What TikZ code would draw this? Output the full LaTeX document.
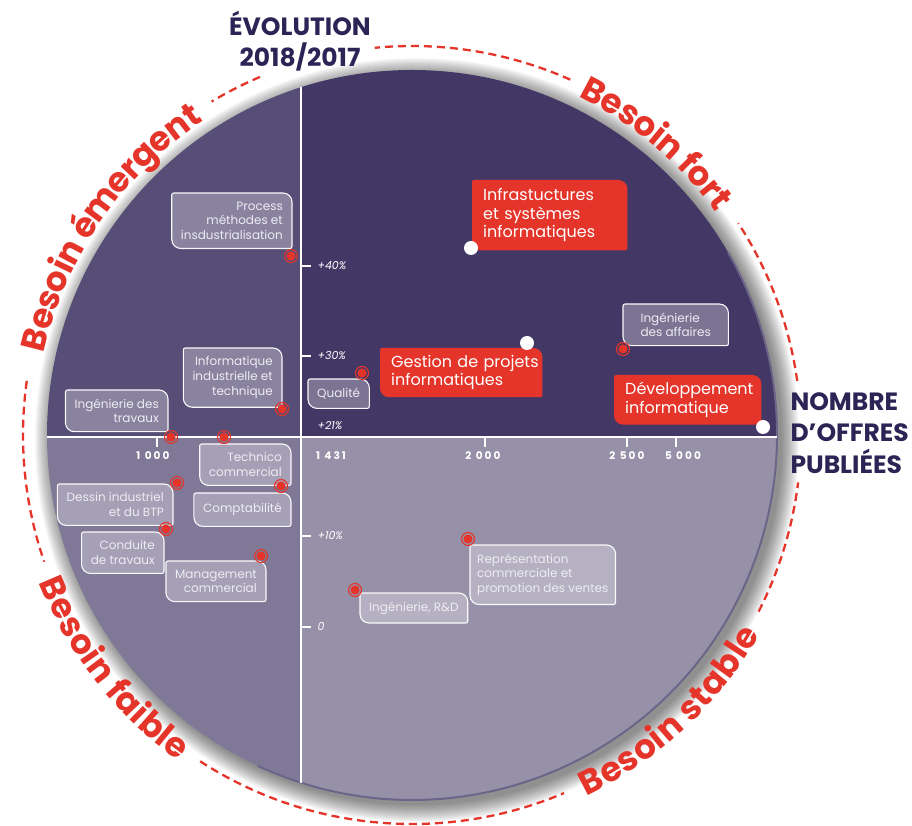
\documentclass[tikz,border=0pt]{standalone}
\usepackage{fontspec}
\setmainfont{Poppins}
\newfontfamily\tickfont[LetterSpace=20]{Poppins}
\usetikzlibrary{decorations.text}

\definecolor{besred}{HTML}{E5352A}
\definecolor{navy}{HTML}{2B2455}
\definecolor{qtl}{HTML}{564E76}
\definecolor{qtr}{HTML}{433865}
\definecolor{qbl}{HTML}{7F7897}
\definecolor{qbr}{HTML}{9690A8}
\definecolor{qedge}{HTML}{6B6589}
\definecolor{tagtext}{HTML}{EEECF3}

\pgfdeclarelayer{disc}
\pgfdeclarelayer{tags}
\pgfsetlayers{disc,tags,main}

\newcommand\besoinfont{\bfseries\fontsize{34}{34}\selectfont\color{besred}}
% outline of a tag: big round corners top right and bottom left
\newcommand\tagpath[2]{%
  \path[#1] ([xshift=2pt]#2.north west) -- ([xshift=-9pt]#2.north east)
    arc[start angle=90,end angle=0,radius=9pt] -- ([yshift=2pt]#2.south east)
    arc[start angle=0,end angle=-90,radius=2pt] -- ([xshift=9pt]#2.south west)
    arc[start angle=270,end angle=180,radius=9pt] -- ([yshift=-2pt]#2.north west)
    arc[start angle=180,end angle=90,radius=2pt] -- cycle;}

\begin{document}
\begin{tikzpicture}[x=1pt,y=1pt,semithick,
  graytag/.style={inner xsep=9pt,inner ysep=8.5pt,text=tagtext,font=\fontsize{12}{14.8}\selectfont},
  redtag/.style={inner xsep=11pt,inner ysep=7pt,text=white,align=left,font=\fontsize{16}{18.5}\selectfont},
  tagbox/.style={fill=white,fill opacity=0.3,draw=white,draw opacity=0.95,line width=1.1pt},
  redbox/.style={fill=besred},
  reddot/.style={circle,draw=besred,line width=1.1pt,minimum size=13pt,inner sep=0pt,
    path picture={\fill[besred] (path picture bounding box.center) circle (4.6);}},
  whitedot/.style={circle,fill=white,minimum size=14pt,inner sep=0pt},
  dashring/.style={besred,line width=2.3pt,dash pattern=on 8pt off 5pt},
  arctext/.style={decorate,decoration={text along path,text align=center,raise=-12pt,
    text={|\besoinfont|#1}}},
  axis/.style={white,line width=1.2pt},
  axnum/.style={text=white,font=\tickfont\bfseries\fontsize{10.5}{12}\selectfont},
  axpct/.style={text=white,anchor=west,font=\itshape\fontsize{11}{12}\selectfont},
  heading/.style={text=navy,font=\bfseries\fontsize{25}{31.5}\selectfont}]
  \useasboundingbox (0,0) rectangle (912,825);
  \coordinate (c) at (412,390);
  \coordinate (xw) at (47,388);
  \coordinate (xe) at (777,388);
  \coordinate (yn) at (301,738);
  \coordinate (ys) at (301,42);

  % disc, shadow and quadrants
  \begin{pgfonlayer}{disc}
    \foreach \r in {365,...,382}
      \fill[black,opacity=0.03] ([shift={(5,-5)}]c) circle (\r);
    \begin{scope}
      \clip (c) circle (365);
      \fill[qtl] (40,388) rectangle (301,760);
      \fill[qtr] (301,388) rectangle (780,760);
      \fill[qbl] (40,20) rectangle (301,388);
      \fill[qbr] (301,20) rectangle (780,388);
    \end{scope}
    \draw[qedge,line width=2pt] ([shift={(30:365)}]c) arc[start angle=30,end angle=-115,radius=365];
    \draw[axis] (xw) -- (xe);
    \draw[axis] (ys) -- (yn);
    \foreach \x in {157,485,627,676}
      \draw[axis] (\x,388) -- (\x,378);
    \foreach \y in {559,469,289,198}
      \draw[axis] (301,\y) -- (311,\y);
  \end{pgfonlayer}

  % dashed ring and its four labels
  \foreach \a/\b in {113/121,66/95.5,8/33,-27/-7,237/293,172/199}
    \draw[dashring] ([shift={(\a:389)}]c) arc[start angle=\a,end angle=\b,radius=389];
  \path[arctext={Besoin émergent}] ([shift={(178:389)}]c) arc[start angle=178,end angle=113,radius=389];
  \path[arctext={Besoin fort}] ([shift={(72:389)}]c) arc[start angle=72,end angle=28,radius=389];
  \path[arctext={Besoin faible}] ([shift={(192:389)}]c) arc[start angle=192,end angle=244,radius=389];
  \path[arctext={Besoin stable}] ([shift={(285:389)}]c) arc[start angle=285,end angle=341,radius=389];

  % axis titles and scales
  \node[heading,align=center] (ytitle) at (300,784) {ÉVOLUTION\\2018/2017};
  \node[heading,align=left,anchor=west] (xtitle) at (787,392) {NOMBRE\\D’OFFRES\\PUBLIÉES};
  \foreach \x/\t [count=\i] in {153/1 000,331/1 431,483/2 000,627/2 500,683/5 000}
    \node[axnum] (num\i) at (\x,369) {\t};
  \foreach \y/\t [count=\i] in {559/+40\%,469/+30\%,399/+21\%,289/+10\%,198/0}
    \node[axpct] (pct\i) at (314,\y) {\t};

  % tags
  \node[graytag,align=right,anchor=north east] (process) at (292,632) {Process\\méthodes et\\insdustrialisation};
  \node[graytag,align=right,anchor=north east] (infoind) at (282,477) {Informatique\\industrielle et\\technique};
  \node[graytag,align=right,anchor=north east] (travaux) at (168,435) {Ingénierie des\\travaux};
  \node[graytag,align=right,anchor=north east] (technico) at (291,381) {Technico\\commercial};
  \node[graytag,align=right,anchor=north east] (dessin) at (173,341) {Dessin industriel\\et du BTP};
  \node[graytag,align=right,anchor=north east,minimum height=33pt] (compta) at (291,332) {Comptabilité};
  \node[graytag,align=right,anchor=north east] (conduite) at (164,293) {Conduite\\de travaux};
  \node[graytag,align=right,anchor=north east] (mgmt) at (266,264) {Management\\commercial};
  \node[graytag,align=left,anchor=north west,minimum height=29pt] (qualite) at (308,446) {Qualité};
  \node[graytag,align=left,anchor=north west,minimum width=105pt] (affaires) at (623,521) {Ingénierie\\des affaires};
  \node[graytag,align=left,anchor=north west,inner xsep=7pt] (repr) at (470,280) {Représentation\\commerciale et\\promotion des ventes};
  \node[graytag,align=left,anchor=north west,minimum height=29pt] (rd) at (360,232) {Ingénierie, R\&D};
  \node[redtag,text width=133pt,minimum height=70pt,anchor=north west] (infra) at (472,645) {Infrastuctures\\et systèmes\\informatiques};
  \node[redtag,text width=140pt,anchor=north west] (gestion) at (380,477) {\mbox{Gestion de projets}\\informatiques};
  \node[redtag,text width=125pt,anchor=north west] (dev) at (614,450) {Développement\\informatique};
  \begin{pgfonlayer}{tags}
    \foreach \n in {process,infoind,travaux,technico,dessin,compta,conduite,mgmt,qualite,affaires,repr,rd}
      {\tagpath{tagbox}{\n}}
    \foreach \n in {infra,gestion,dev}
      {\tagpath{redbox}{\n}}
  \end{pgfonlayer}

  % points
  \node[reddot] (pprocess) at (291,569) {};
  \node[reddot] (pinfoind) at (282,416) {};
  \node[reddot] (ptravaux) at (171,388) {};
  \node[reddot] (ptechnico) at (224,388) {};
  \node[reddot] (pdessin) at (177,342) {};
  \node[reddot] (pcompta) at (281,339) {};
  \node[reddot] (pconduite) at (166,296) {};
  \node[reddot] (pmgmt) at (261,269) {};
  \node[reddot] (pqualite) at (362,452) {};
  \node[reddot] (paffaires) at (623,476) {};
  \node[reddot] (prepr) at (468,286) {};
  \node[reddot] (prd) at (355,235) {};
  \node[whitedot] (pinfra) at (471,577) {};
  \node[whitedot] (pgestion) at (527,482) {};
  \node[whitedot] (pdev) at (763,398) {};
\end{tikzpicture}
\end{document}
